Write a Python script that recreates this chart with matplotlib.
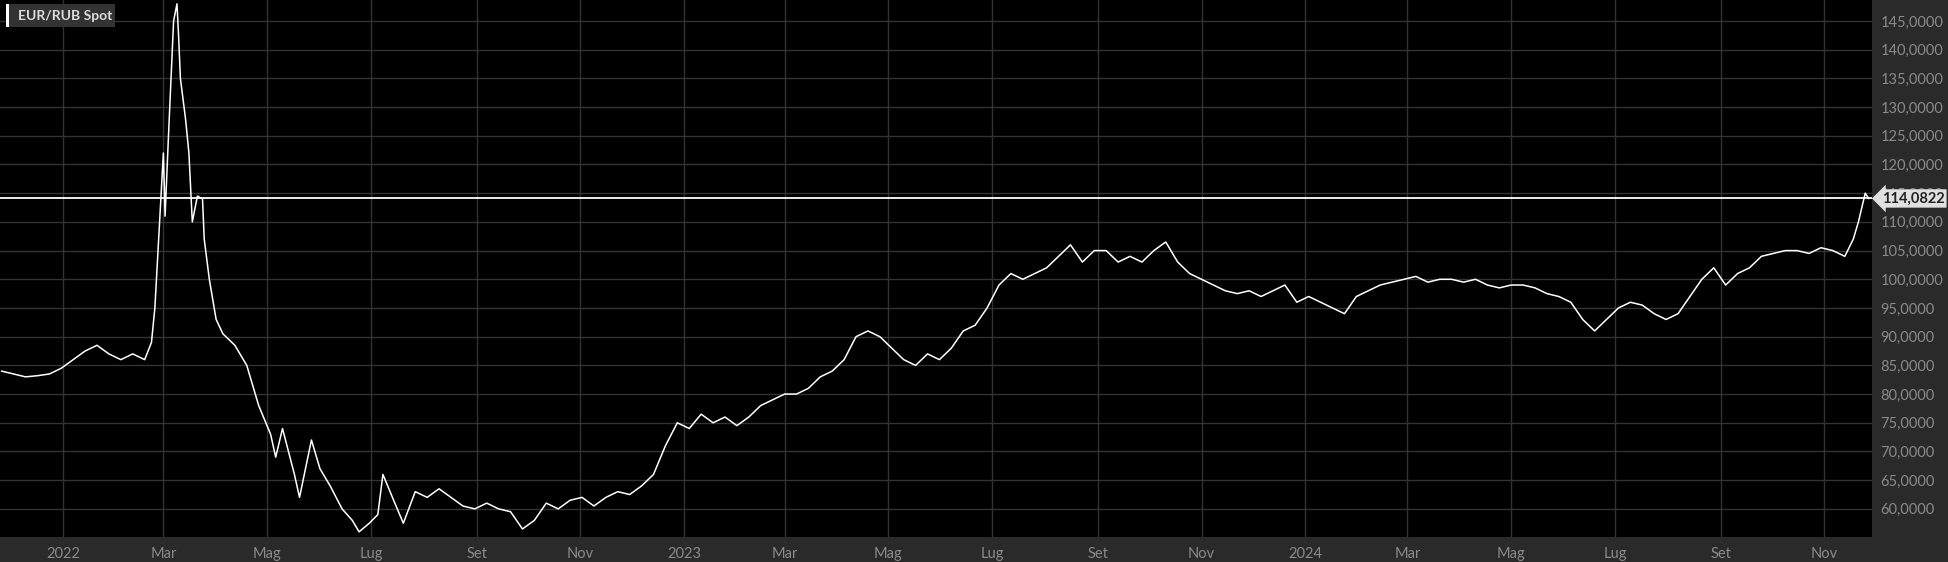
import pandas as pd
import matplotlib.pyplot as plt
import matplotlib.dates as mdates
from matplotlib.ticker import FuncFormatter, MultipleLocator

plt.rcParams['font.family'] = ['Lato', 'DejaVu Sans']

dates = [
    "2021-11-26", "2021-12-03", "2021-12-10", "2021-12-17", "2021-12-24", "2021-12-31",
    "2022-01-07", "2022-01-14", "2022-01-21", "2022-01-28", "2022-02-04", "2022-02-11",
    "2022-02-18", "2022-02-22", "2022-02-24", "2022-03-01", "2022-03-02", "2022-03-04",
    "2022-03-07", "2022-03-09", "2022-03-10", "2022-03-11", "2022-03-14", "2022-03-16",
    "2022-03-18", "2022-03-21", "2022-03-24", "2022-03-25", "2022-03-28", "2022-04-01",
    "2022-04-05", "2022-04-12", "2022-04-19", "2022-04-26", "2022-05-03", "2022-05-06",
    "2022-05-10", "2022-05-17", "2022-05-20", "2022-05-27", "2022-06-01", "2022-06-07",
    "2022-06-14", "2022-06-20", "2022-06-24", "2022-06-30", "2022-07-05", "2022-07-08",
    "2022-07-15", "2022-07-20", "2022-07-27", "2022-08-03", "2022-08-10", "2022-08-17",
    "2022-08-24", "2022-08-31", "2022-09-07", "2022-09-14", "2022-09-21", "2022-09-28",
    "2022-10-05", "2022-10-12", "2022-10-19", "2022-10-26", "2022-11-02", "2022-11-09",
    "2022-11-16", "2022-11-23", "2022-11-30", "2022-12-07", "2022-12-14", "2022-12-21",
    "2022-12-28", "2023-01-04", "2023-01-11", "2023-01-18", "2023-01-25", "2023-02-01",
    "2023-02-08", "2023-02-15", "2023-02-22", "2023-03-01", "2023-03-08", "2023-03-15",
    "2023-03-22", "2023-03-29", "2023-04-05", "2023-04-12", "2023-04-19", "2023-04-26",
    "2023-05-03", "2023-05-10", "2023-05-17", "2023-05-24", "2023-05-31", "2023-06-07",
    "2023-06-14", "2023-06-21", "2023-06-28", "2023-07-05", "2023-07-12", "2023-07-19",
    "2023-07-26", "2023-08-02", "2023-08-09", "2023-08-16", "2023-08-23", "2023-08-30",
    "2023-09-06", "2023-09-13", "2023-09-20", "2023-09-27", "2023-10-04", "2023-10-11",
    "2023-10-18", "2023-10-25", "2023-11-01", "2023-11-08", "2023-11-15", "2023-11-22",
    "2023-11-29", "2023-12-06", "2023-12-13", "2023-12-20", "2023-12-27", "2024-01-03",
    "2024-01-10", "2024-01-17", "2024-01-24", "2024-01-31", "2024-02-07", "2024-02-14",
    "2024-02-21", "2024-02-28", "2024-03-06", "2024-03-13", "2024-03-20", "2024-03-27",
    "2024-04-03", "2024-04-10", "2024-04-17", "2024-04-24", "2024-05-01", "2024-05-08",
    "2024-05-15", "2024-05-22", "2024-05-29", "2024-06-05", "2024-06-12", "2024-06-19",
    "2024-06-26", "2024-07-03", "2024-07-10", "2024-07-17", "2024-07-24", "2024-07-31",
    "2024-08-07", "2024-08-14", "2024-08-21", "2024-08-28", "2024-09-04", "2024-09-11",
    "2024-09-18", "2024-09-25", "2024-10-02", "2024-10-09", "2024-10-16", "2024-10-23",
    "2024-10-30", "2024-11-06", "2024-11-13", "2024-11-18", "2024-11-21", "2024-11-25",
    "2024-11-27",
]
values = [
    84.0, 83.5, 83.0, 83.2, 83.5, 84.5,
    86.0, 87.5, 88.5, 87.0, 86.0, 87.0,
    86.0, 89.0, 95.0, 122.0, 111.0, 125.0,
    145.0, 148.0, 142.0, 135.0, 128.0, 122.0,
    110.0, 114.5, 114.0, 107.0, 100.0, 93.0,
    90.5, 88.5, 85.0, 78.0, 73.0, 69.0,
    74.0, 66.0, 62.0, 72.0, 67.0, 64.0,
    60.0, 58.0, 56.0, 57.5, 59.0, 66.0,
    61.0, 57.5, 63.0, 62.0, 63.5, 62.0,
    60.5, 60.0, 61.0, 60.0, 59.5, 56.5,
    58.0, 61.0, 60.0, 61.5, 62.0, 60.5,
    62.0, 63.0, 62.5, 64.0, 66.0, 71.0,
    75.0, 74.0, 76.5, 75.0, 76.0, 74.5,
    76.0, 78.0, 79.0, 80.0, 80.0, 81.0,
    83.0, 84.0, 86.0, 90.0, 91.0, 90.0,
    88.0, 86.0, 85.0, 87.0, 86.0, 88.0,
    91.0, 92.0, 95.0, 99.0, 101.0, 100.0,
    101.0, 102.0, 104.0, 106.0, 103.0, 105.0,
    105.0, 103.0, 104.0, 103.0, 105.0, 106.5,
    103.0, 101.0, 100.0, 99.0, 98.0, 97.5,
    98.0, 97.0, 98.0, 99.0, 96.0, 97.0,
    96.0, 95.0, 94.0, 97.0, 98.0, 99.0,
    99.5, 100.0, 100.5, 99.5, 100.0, 100.0,
    99.5, 100.0, 99.0, 98.5, 99.0, 99.0,
    98.5, 97.5, 97.0, 96.0, 93.0, 91.0,
    93.0, 95.0, 96.0, 95.5, 94.0, 93.0,
    94.0, 97.0, 100.0, 102.0, 99.0, 101.0,
    102.0, 104.0, 104.5, 105.0, 105.0, 104.5,
    105.5, 105.0, 104.0, 107.0, 110.0, 115.0,
    114.0822,
]
last_value = 114.0822

s = pd.Series(values, index=pd.to_datetime(dates))

fig = plt.figure(figsize=(19.48, 5.62), dpi=100, facecolor='#2a2a2a')
ax = fig.add_axes([0, 0.0445, 0.961, 0.9555])
ax.set_facecolor('black')

ax.plot(s.index, s.values, color='white', lw=1.1)
ax.axhline(last_value, color='white', lw=1.3)

ax.set_xlim(pd.Timestamp("2021-11-25"), pd.Timestamp("2024-11-29"))
ax.set_ylim(55.1, 148.66)

ax.yaxis.set_major_locator(MultipleLocator(5))
ax.yaxis.set_major_formatter(FuncFormatter(lambda v, p: f'{v:.4f}'.replace('.', ',')))
ax.yaxis.tick_right()
ax.xaxis.set_major_locator(mdates.MonthLocator(bymonth=[1, 3, 5, 7, 9, 11]))
mesi = {3: 'Mar', 5: 'Mag', 7: 'Lug', 9: 'Set', 11: 'Nov'}
def fmt_x(v, p):
    d = mdates.num2date(v)
    return str(d.year) if d.month == 1 else mesi[d.month]
ax.xaxis.set_major_formatter(FuncFormatter(fmt_x))
ax.tick_params(axis='y', length=0, pad=6, labelsize=10.5, labelcolor='#8a8a8a')
ax.tick_params(axis='x', length=0, pad=7, labelsize=10.5, labelcolor='#8a8a8a')
ax.grid(True, color='#333333', lw=1)
for sp in ax.spines.values():
    sp.set_visible(False)

# last value label
ax.annotate(f'{last_value:.4f}'.replace('.', ','), xy=(1.0, last_value),
            xycoords=('axes fraction', 'data'), xytext=(7, 0), textcoords='offset points',
            va='center', ha='left', fontsize=10.5, fontweight='bold', color='#222222',
            bbox=dict(boxstyle='larrow,pad=0.15', fc='#e0e0e0', ec='none'), annotation_clip=False)

# legend tag
fig.patches.append(plt.Rectangle((0.003, 0.952), 0.056, 0.041, transform=fig.transFigure,
                                 fc='#333333', ec='none'))
fig.patches.append(plt.Rectangle((0.003, 0.952), 0.0018, 0.041, transform=fig.transFigure,
                                 fc='white', ec='none'))
fig.text(0.009, 0.972, 'EUR/RUB Spot', color='#dddddd', fontsize=10, fontweight='bold',
         va='center', ha='left')

fig.savefig('out.png', dpi=100, facecolor=fig.get_facecolor())
